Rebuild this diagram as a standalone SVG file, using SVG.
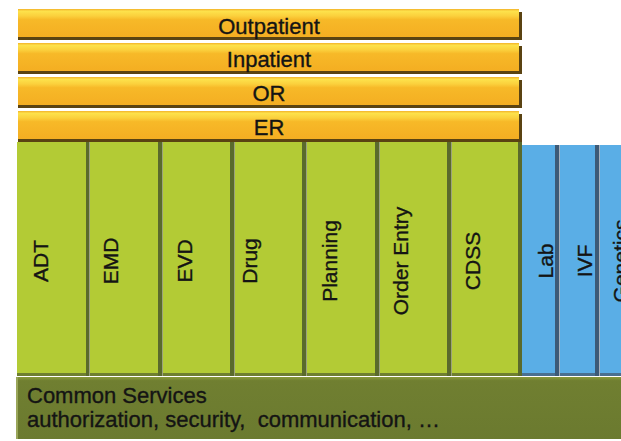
<svg xmlns="http://www.w3.org/2000/svg" width="621" height="441" viewBox="0 0 621 441">
  <defs>
    <linearGradient id="gOrange" x1="0" y1="0" x2="0" y2="1">
      <stop offset="0" stop-color="#f3b22a"/>
      <stop offset="0.08" stop-color="#fde24c"/>
      <stop offset="0.25" stop-color="#fbd03c"/>
      <stop offset="0.38" stop-color="#f7b928"/>
      <stop offset="1" stop-color="#f4ae22"/>
    </linearGradient>
    <linearGradient id="gOlive" x1="0" y1="0" x2="0" y2="1">
      <stop offset="0" stop-color="#8a9a3a"/>
      <stop offset="0.06" stop-color="#707f31"/>
      <stop offset="1" stop-color="#6b7a2f"/>
    </linearGradient>
  </defs>
  <style>
    .bar { fill: url(#gOrange); }
    .barShadow { fill: #5a4312; }
    .green { fill: #b3cb35; }
    .greenDiv { fill: #5a6a2c; }
    .greenLine { fill: #9ba27c; }
    .greenBottom { fill: #6f7f30; }
    .blue { fill: #5aaee6; }
    .blueDiv { fill: #3d5a76; }
    .blueLine { fill: #a8b4c0; }
    .blueBottom { fill: #4a7090; }
    .olive { fill: url(#gOlive); }
    .lbl { font-family: "Liberation Sans", Arial, sans-serif; font-size: 22px; fill: #141414; stroke: #141414; stroke-width: 0.35; }
    .hc { text-anchor: middle; }
    .vt { font-family: "Liberation Sans", Arial, sans-serif; font-size: 21px; fill: #141414; stroke: #141414; stroke-width: 0.35; text-anchor: middle; }
  </style>
  <rect x="0" y="0" width="621" height="441" fill="#ffffff"/>

  <!-- Orange layer bars -->
  <g id="outpatient">
    <rect class="barShadow" x="18" y="12" width="504" height="28"/>
    <rect class="bar" x="18" y="9" width="501" height="28"/>
    <text class="lbl hc" x="269" y="34">Outpatient</text>
  </g>
  <g id="inpatient">
    <rect class="barShadow" x="18" y="46" width="504" height="28"/>
    <rect class="bar" x="18" y="43" width="501" height="28"/>
    <text class="lbl hc" x="269" y="67">Inpatient</text>
  </g>
  <g id="or">
    <rect class="barShadow" x="18" y="80" width="504" height="28"/>
    <rect class="bar" x="18" y="77" width="501" height="28"/>
    <text class="lbl hc" x="269" y="101">OR</text>
  </g>
  <g id="er">
    <rect class="barShadow" x="18" y="114" width="504" height="28"/>
    <rect class="bar" x="18" y="111" width="501" height="28"/>
    <text class="lbl hc" x="269" y="135">ER</text>
  </g>

  <!-- Common services -->
  <g id="common-services">
    <rect class="olive" x="16" y="377" width="605" height="62"/>
    <rect x="16" y="377" width="2" height="62" fill="#9aa65a"/>
    <text class="lbl" x="27" y="403">Common Services</text>
    <text class="lbl" x="27" y="427" style="white-space:pre">authorization, security,  communication, …</text>
  </g>

  <!-- Green modules -->
  <g id="adt">
    <rect class="green" x="17" y="142" width="69" height="234"/>
    <rect class="greenBottom" x="17" y="373" width="73" height="3"/>
    <rect class="greenDiv" x="86" y="142" width="4" height="234"/>
    <rect class="greenLine" x="89" y="142" width="1" height="234"/>
    <text class="vt" transform="translate(48,261) rotate(-90)">ADT</text>
  </g>
  <g id="emd">
    <rect class="green" x="90" y="142" width="68" height="234"/>
    <rect class="greenBottom" x="90" y="373" width="73" height="3"/>
    <rect class="greenDiv" x="158" y="142" width="5" height="234"/>
    <rect class="greenLine" x="162" y="142" width="1" height="234"/>
    <text class="vt" transform="translate(118,261) rotate(-90)">EMD</text>
  </g>
  <g id="evd">
    <rect class="green" x="163" y="142" width="67" height="234"/>
    <rect class="greenBottom" x="163" y="373" width="72" height="3"/>
    <rect class="greenDiv" x="230" y="142" width="5" height="234"/>
    <rect class="greenLine" x="234" y="142" width="1" height="234"/>
    <text class="vt" transform="translate(192,261) rotate(-90)">EVD</text>
  </g>
  <g id="drug">
    <rect class="green" x="235" y="142" width="67" height="234"/>
    <rect class="greenBottom" x="235" y="373" width="72" height="3"/>
    <rect class="greenDiv" x="302" y="142" width="5" height="234"/>
    <rect class="greenLine" x="306" y="142" width="1" height="234"/>
    <text class="vt" transform="translate(257,261) rotate(-90)">Drug</text>
  </g>
  <g id="planning">
    <rect class="green" x="307" y="142" width="68" height="234"/>
    <rect class="greenBottom" x="307" y="373" width="73" height="3"/>
    <rect class="greenDiv" x="375" y="142" width="5" height="234"/>
    <rect class="greenLine" x="379" y="142" width="1" height="234"/>
    <text class="vt" transform="translate(337,261) rotate(-90)">Planning</text>
  </g>
  <g id="order-entry">
    <rect class="green" x="380" y="142" width="67" height="234"/>
    <rect class="greenBottom" x="380" y="373" width="72" height="3"/>
    <rect class="greenDiv" x="447" y="142" width="5" height="234"/>
    <rect class="greenLine" x="451" y="142" width="1" height="234"/>
    <text class="vt" transform="translate(408,261) rotate(-90)">Order Entry</text>
  </g>
  <g id="cdss">
    <rect class="green" x="452" y="142" width="66" height="234"/>
    <rect class="greenBottom" x="452" y="373" width="70" height="3"/>
    <rect class="greenDiv" x="518" y="142" width="4" height="234"/>
    <text class="vt" transform="translate(480,261) rotate(-90)">CDSS</text>
  </g>

  <!-- Blue modules -->
  <g id="lab">
    <rect class="blue" x="522" y="145" width="33" height="231"/>
    <rect class="blueBottom" x="522" y="373" width="38" height="3"/>
    <rect class="blueDiv" x="555" y="145" width="5" height="231"/>
    <rect class="blueLine" x="559" y="145" width="1" height="231"/>
    <text class="vt" transform="translate(553,261) rotate(-90)">Lab</text>
  </g>
  <g id="ivf">
    <rect class="blue" x="560" y="145" width="35" height="231"/>
    <rect class="blueBottom" x="560" y="373" width="40" height="3"/>
    <rect class="blueDiv" x="595" y="145" width="5" height="231"/>
    <rect class="blueLine" x="599" y="145" width="1" height="231"/>
    <text class="vt" transform="translate(592,261) rotate(-90)">IVF</text>
  </g>
  <g id="genetics">
    <rect class="blue" x="600" y="145" width="21" height="231"/>
    <rect class="blueBottom" x="600" y="373" width="21" height="3"/>
    <text class="vt" transform="translate(628,261) rotate(-90)">Genetics</text>
  </g>
</svg>
